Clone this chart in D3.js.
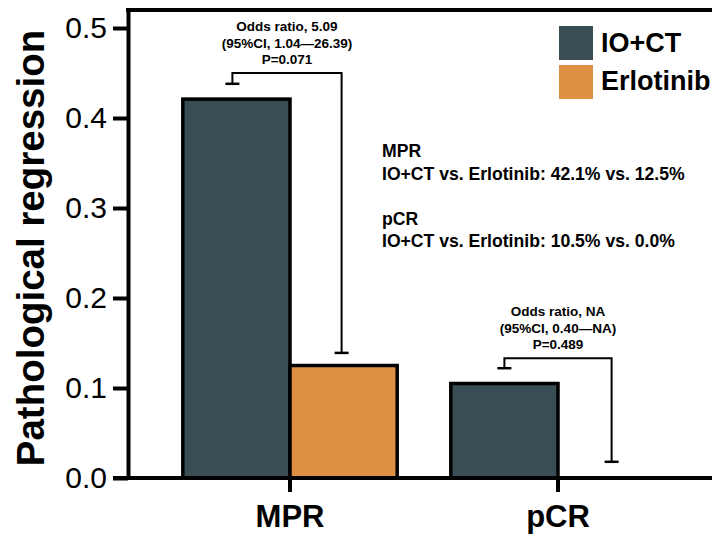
<!DOCTYPE html>
<html>
<head>
<meta charset="utf-8">
<script src="https://cdn.jsdelivr.net/npm/d3@7"></script>
<style>
  body { margin: 0; background: #fff; }
  svg { display: block; font-family: "Liberation Sans", Arial, sans-serif; }
</style>
</head>
<body>
<div id="chart"></div>
<script>
// data
const categories = ["MPR", "pCR"];
const groups = ["IO+CT", "Erlotinib"];
const ioct = [0.421, 0.105];
const erlotinib = [0.125, 0.0];
const colors = ["#394d54", "#de8f44"];
const yTicks = [0, 0.1, 0.2, 0.3, 0.4, 0.5];

// comparison brackets (left cap, right cap, top)
const capLeft = [0.438, 0.122];
const capRight = [0.139, 0.018];
const bracketTop = [0.450, 0.133];
const oddsText = [
  ["Odds ratio, 5.09", "(95%CI, 1.04\u201426.39)", "P=0.071"],
  ["Odds ratio, NA", "(95%CI, 0.40\u2014NA)", "P=0.489"]
];
const summaryLines = [
  "MPR",
  "IO+CT vs. Erlotinib: 42.1% vs. 12.5%",
  "",
  "pCR",
  "IO+CT vs. Erlotinib: 10.5% vs. 0.0%"
];

let width = 712, height = 535;
let mLeft = 128, mRight = 712, mTop = 10, mBottom = 478;

let svg = d3.select("#chart").append("svg")
  .attr("width", width)
  .attr("height", height);

let x = d3.scaleBand()
  .domain(categories)
  .range([156, 692])
  .paddingInner(0.2)
  .paddingOuter(0.1);

let xs = d3.scaleBand()
  .domain(groups)
  .range([0, x.bandwidth()]);

let y = d3.scaleLinear()
  .domain([0, 0.52])
  .range([mBottom, mTop]);

let series = [ioct, erlotinib];

// bars
groups.forEach((g, gi) => {
  svg.selectAll(".bar" + gi)
    .data(categories)
    .enter()
    .append("rect")
    .attr("x", d => x(d) + xs(g))
    .attr("y", (d, i) => y(series[gi][i]))
    .attr("width", xs.bandwidth())
    .attr("height", (d, i) => y(0) - y(series[gi][i]))
    .attr("fill", colors[gi])
    .attr("stroke", "#000")
    .attr("stroke-width", 3.5);
});

// frame lines
svg.append("line")
  .attr("x1", mLeft - 2).attr("x2", mRight)
  .attr("y1", mTop).attr("y2", mTop)
  .attr("stroke", "#000").attr("stroke-width", 4);

// y axis
let yAxis = svg.append("g")
  .attr("transform", `translate(${mLeft},0)`)
  .call(d3.axisLeft(y).tickValues(yTicks).tickFormat(d3.format(".1f"))
    .tickSize(15).tickSizeOuter(0).tickPadding(6));
yAxis.select(".domain").attr("stroke-width", 4);
yAxis.selectAll(".tick line").attr("stroke-width", 4);
yAxis.selectAll("text")
  .attr("font-size", 30)
  .attr("fill", "#000")
  .attr("font-family", "Liberation Sans, Arial, sans-serif");

// x axis
let xAxis = svg.append("g")
  .attr("transform", `translate(0,${mBottom})`)
  .call(d3.axisBottom(x).tickSize(14).tickSizeOuter(0));
xAxis.select(".domain").remove();
xAxis.selectAll(".tick line").attr("stroke-width", 4);
xAxis.selectAll("text")
  .attr("y", 49)
  .attr("dy", 0)
  .attr("font-size", 31)
  .attr("font-weight", "bold")
  .attr("fill", "#000")
  .attr("font-family", "Liberation Sans, Arial, sans-serif");

svg.append("line")
  .attr("x1", 113).attr("x2", mRight)
  .attr("y1", mBottom).attr("y2", mBottom)
  .attr("stroke", "#000").attr("stroke-width", 4);

// y label
svg.append("text")
  .attr("transform", "translate(44,248) rotate(-90)")
  .attr("text-anchor", "middle")
  .attr("font-size", 38.5)
  .attr("font-weight", "bold")
  .text("Pathological regression");

// brackets
categories.forEach((c, i) => {
  let x1 = x(c) + xs("IO+CT") + xs.bandwidth() / 2;
  let x2 = x(c) + xs("Erlotinib") + xs.bandwidth() / 2;
  if (i == 0) { x1 -= 4; x2 -= 2; }
  let path = d3.path();
  path.moveTo(x1, y(capLeft[i]));
  path.lineTo(x1, y(bracketTop[i]));
  path.lineTo(x2, y(bracketTop[i]));
  path.lineTo(x2, y(capRight[i]));
  svg.append("path")
    .attr("d", path.toString())
    .attr("fill", "none")
    .attr("stroke", "#000")
    .attr("stroke-width", 2);
  [[x1, capLeft[i]], [x2, capRight[i]]].forEach(p => {
    svg.append("line")
      .attr("x1", p[0] - 7).attr("x2", p[0] + 7)
      .attr("y1", y(p[1])).attr("y2", y(p[1]))
      .attr("stroke", "#000").attr("stroke-width", 2.5);
  });

  let cx = x(c) + x.bandwidth() / 2 - (i == 0 ? 3 : 0);
  svg.selectAll(".odds" + i)
    .data(oddsText[i])
    .enter()
    .append("text")
    .attr("x", cx)
    .attr("y", (d, k) => y(bracketTop[i]) - 9 - (2 - k) * 16.5)
    .attr("text-anchor", "middle")
    .attr("font-size", 13.5)
    .attr("font-weight", "bold")
    .text(d => d);
});

// summary text
svg.selectAll(".summary")
  .data(summaryLines)
  .enter()
  .append("text")
  .attr("x", 382)
  .attr("y", (d, i) => 157 + i * 22.5)
  .attr("font-size", 17.6)
  .attr("font-weight", "bold")
  .text(d => d);

// legend
groups.forEach((g, i) => {
  svg.append("rect")
    .attr("x", 559).attr("y", 26 + i * 39)
    .attr("width", 34).attr("height", 34)
    .attr("fill", colors[i]);
  svg.append("text")
    .attr("x", 601).attr("y", 52 + i * 38)
    .attr("font-size", 27)
    .attr("font-weight", "bold")
    .text(g);
});
</script>
</body>
</html>
